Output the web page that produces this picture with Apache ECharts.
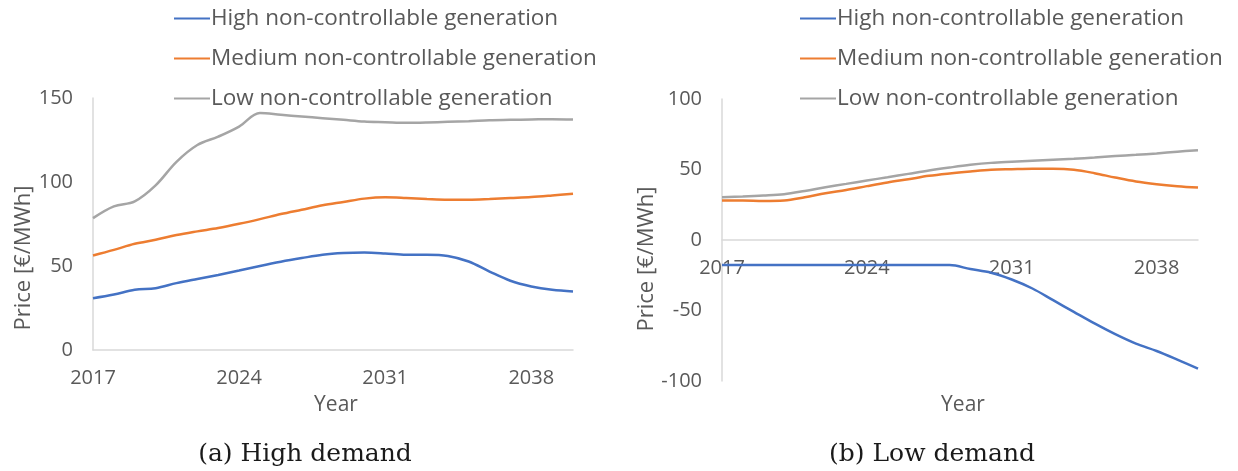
<!DOCTYPE html>
<html>
<head>
<meta charset="utf-8">
<script src="https://cdn.jsdelivr.net/npm/echarts@6/dist/echarts.min.js"></script>
<style>
html,body{margin:0;padding:0;background:#fff;}
#chart{width:1238px;height:471px;}
</style>
</head>
<body>
<div id="chart"></div>
<script>
const years = ['2017','2018','2019','2020','2021','2022','2023','2024','2025','2026','2027','2028',
               '2029','2030','2031','2032','2033','2034','2035','2036','2037','2038','2039','2040'];
const seriesNames = ['High non-controllable generation','Medium non-controllable generation','Low non-controllable generation'];

// (a) High demand
const highDemandHigh = [30.8,33,35.8,36.8,39.8,42.3,44.7,47.3,50,52.5,54.7,56.7,57.7,58,57.5,56.7,56.7,56,52.7,46.7,41.2,37.8,35.8,34.8];
const highDemandMedium = [56.3,59.6,63.2,65.6,68.4,70.6,72.6,75.1,77.9,80.9,83.5,86.1,88.1,90.1,90.9,90.5,89.9,89.5,89.5,89.9,90.5,91.1,92,93];
const highDemandLow = [78.5,85.5,88.5,98,112,122,127,133,141,140,139,138,137,136,135.6,135.2,135.4,135.8,136.2,136.8,137,137.2,137.4,137.2];

// (b) Low demand
const lowDemandHigh = [-17.8,-17.8,-17.8,-17.8,-17.8,-17.8,-17.8,-17.8,-17.8,-17.8,-17.8,-17.8,-20.6,-23.2,-28,-34.4,-42.7,-51,-59.2,-66.8,-73.5,-78.7,-84.8,-91.2];
const lowDemandMedium = [28,28,27.7,28,30.3,33.2,35.5,38.2,40.8,43.1,45.5,47.2,48.6,49.8,50.2,50.5,50.5,49.8,47.4,44.3,41.5,39.6,38.2,37.2];
const lowDemandLow = [30.3,30.8,31.5,32.5,34.8,37.4,39.8,42.2,44.5,46.9,49.3,51.4,53.3,54.7,55.5,56.2,56.9,57.6,58.5,59.5,60.4,61.4,62.6,63.7];

const leftTicks = {min:0, max:150, interval:50};
const rightTicks = {min:-100, max:100, interval:50};
const captions = ['(a) High demand','(b) Low demand'];

const colors = ['#4472C4','#ED7D31','#A5A5A5'];
const FONT = 'Open Sans';
const textGray = '#595959';
const axisGray = '#D9D9D9';

function xAxisCfg(gridIndex, nameGap, offset){
  return {
    type:'category', gridIndex, data: years, boundaryGap:false, position:'bottom', offset,
    name:'Year', nameLocation:'middle', nameGap,
    nameTextStyle:{fontFamily:FONT, fontSize:21, color:textGray, padding:[0,0,0,6]},
    axisLine:{show:true, onZero:false, lineStyle:{color:axisGray, width:1.5}},
    axisTick:{show:false},
    axisLabel:{interval:6, fontFamily:FONT, fontSize:20, color:textGray, margin:18},
    splitLine:{show:false}
  };
}
function yAxisCfg(gridIndex, t, nameGap, pad){
  return {
    type:'value', gridIndex, min:t.min, max:t.max, interval:t.interval,
    name:'Price [€/MWh]', nameLocation:'middle', nameGap,
    nameTextStyle:{fontFamily:FONT, fontSize:22, color:textGray, padding:[0,pad,0,0]},
    axisLine:{show:true, lineStyle:{color:axisGray, width:1.5}},
    axisTick:{show:false},
    axisLabel:{fontFamily:FONT, fontSize:20, color:textGray, margin:20},
    splitLine:{show:false}
  };
}
function lineSeries(name, data, idx, color){
  return {
    name, type:'line', xAxisIndex:idx, yAxisIndex:idx, data,
    smooth:0.35, symbol:'none', showSymbol:false,
    lineStyle:{color, width:2.5}, itemStyle:{color}, z:2
  };
}
function legendCfg(left){
  return {
    orient:'vertical', left, top:2, icon:'rect', itemWidth:36, itemHeight:2, itemGap:17,
    data: seriesNames,
    textStyle:{fontFamily:FONT, fontSize:22.5, color:textGray, padding:[0,0,0,-4]},
    selectedMode:false
  };
}

const chart = echarts.init(document.getElementById('chart'), null, {renderer:'canvas'});
chart.setOption({
  animation:false,
  backgroundColor:'#fff',
  color: colors,
  title:[
    {text:captions[0], left:300, top:437, textAlign:'center',
     textStyle:{fontFamily:'DejaVu Serif', fontSize:25, fontWeight:'normal', color:'#1a1a1a'}},
    {text:captions[1], left:927, top:437, textAlign:'center',
     textStyle:{fontFamily:'DejaVu Serif', fontSize:25, fontWeight:'normal', color:'#1a1a1a'}}
  ],
  legend:[legendCfg(169), legendCfg(795)],
  grid:[
    {left:93, top:98, width:480, height:252, outerBoundsMode:'none', containLabel:false},
    {left:722, top:99, width:476, height:282, outerBoundsMode:'none', containLabel:false}
  ],
  xAxis:[xAxisCfg(0, 45, 0), xAxisCfg(1, 155, -141)],
  yAxis:[yAxisCfg(0, leftTicks, 57, 68), yAxisCfg(1, rightTicks, 63, 38)],
  series:[
    lineSeries(seriesNames[0], highDemandHigh, 0, colors[0]),
    lineSeries(seriesNames[1], highDemandMedium, 0, colors[1]),
    lineSeries(seriesNames[2], highDemandLow, 0, colors[2]),
    lineSeries(seriesNames[0], lowDemandHigh, 1, colors[0]),
    lineSeries(seriesNames[1], lowDemandMedium, 1, colors[1]),
    lineSeries(seriesNames[2], lowDemandLow, 1, colors[2])
  ]
});
</script>
</body>
</html>
